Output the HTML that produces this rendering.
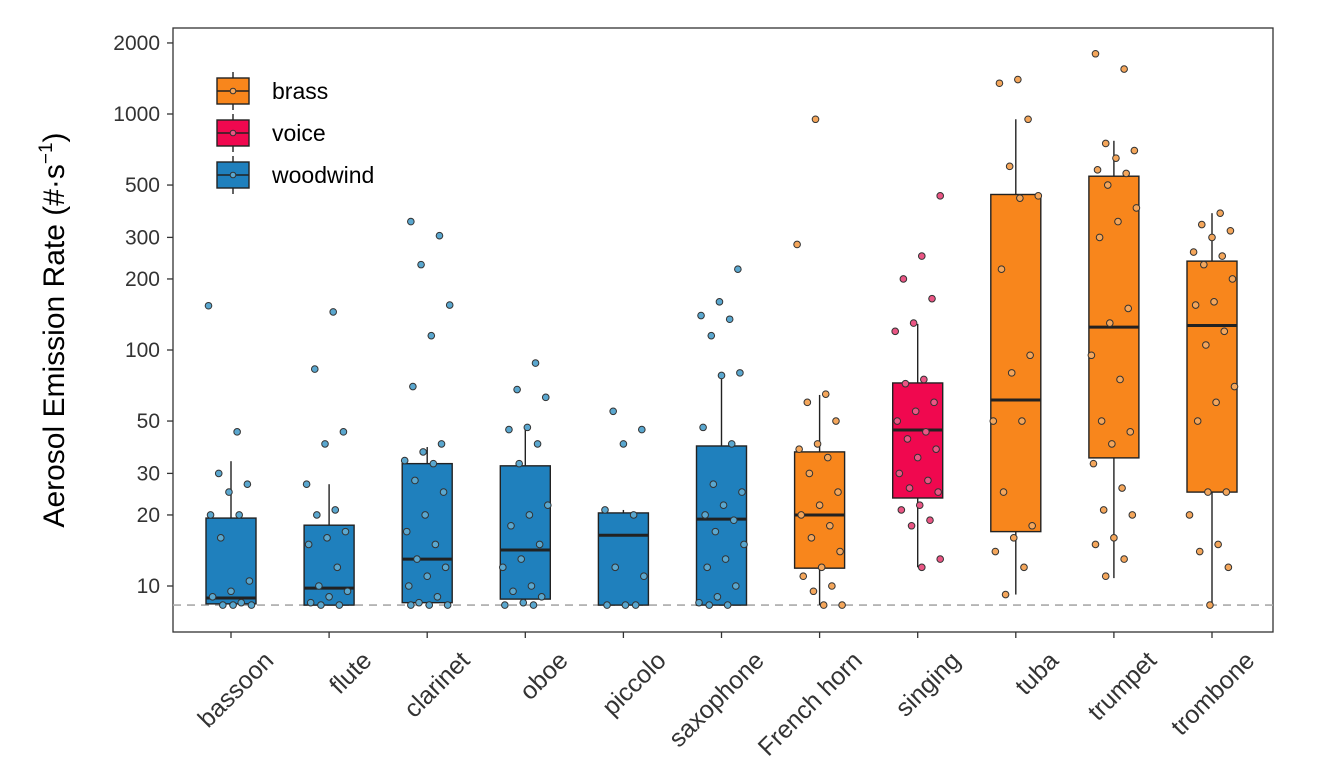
<!DOCTYPE html>
<html><head><meta charset="utf-8"><style>
html,body{margin:0;padding:0;background:#fff;}
svg{display:block;font-family:"Liberation Sans",Arial,sans-serif;}
</style></head><body>
<svg id="chart" width="1321" height="768" viewBox="0 0 1321 768">
<rect x="173" y="28" width="1100" height="604" fill="#fff" stroke="#333" stroke-width="1.3"/>
<g id="grid"></g>
<g id="marks"></g>
<g id="axes"></g>
<text transform="translate(64,330) rotate(-90)" text-anchor="middle" font-size="30" fill="#000">Aerosol Emission Rate (#·s<tspan dy="-12" font-size="19">−1</tspan><tspan dy="12">)</tspan></text>
<g id="legend"></g>
</svg>
<script>
const categories=["bassoon","flute","clarinet","oboe","piccolo","saxophone","French horn","singing","tuba","trumpet","trombone"];
const groups=["woodwind","woodwind","woodwind","woodwind","woodwind","woodwind","brass","voice","brass","brass","brass"];
const q1=[8.4,8.3,8.5,8.8,8.3,8.3,11.9,23.6,17,34.9,25];
const medians=[8.9,9.8,13,14.2,16.4,19.2,20,45.8,61.4,125,127];
const q3=[19.4,18.1,33,32.3,20.4,39.2,37,72.5,456,545,238];
const whiskerLow=[8.3,8.3,8.3,8.3,8.3,8.3,8.3,12,9.2,10.8,8.3];
const whiskerHigh=[33.8,27,38.8,47.2,21,78,64.5,129,950,770,380];
const points=[
[154,45,30,27,25,20,20,16,10.5,9.5,9,8.5,8.3,8.3,8.3],
[145,83,45,40,27,21,20,17,16,15,12,10,9.5,9,8.5,8.3,8.3],
[350,305,230,155,115,70,40,37,34,33,28,25,20,17,15,13,12,11,10,9,8.5,8.3,8.3,8.3],
[88,68,63,47,46,40,33,22,20,18,15,13,12,10,9.5,9,8.5,8.3,8.3],
[55,46,40,21,20,12,11,8.3,8.3,8.3],
[220,160,140,135,115,80,78,47,40,27,25,22,20,19,17,15,13,12,10,9,8.5,8.3,8.3],
[950,280,65,60,50,40,38,35,30,25,22,20,18,16,14,12,11,10,9.5,8.3,8.3],
[450,250,200,165,130,120,75,72,60,55,50,45,42,38,35,30,28,26,25,22,21,19,18,13,12],
[1400,1350,950,600,450,440,220,95,80,50,50,25,18,16,14,12,9.2],
[1800,1550,750,700,650,580,560,500,400,350,300,150,130,95,75,50,45,40,33,26,21,20,16,15,13,11],
[380,340,320,300,260,250,230,200,160,155,120,105,70,60,50,25,25,20,15,14,12,8.3]
];
const yTicks=[10,20,30,50,100,200,300,500,1000,2000];
const detectionLimit=8.3;
const legendGroups=["brass","voice","woodwind"];
const colors={woodwind:"#1f80bd",brass:"#f8861c",voice:"#f0084f"};
const ptColors={woodwind:"#5aa7cf",brass:"#f4a65b",voice:"#ea5584"};
const NS="http://www.w3.org/2000/svg";
function el(t,a,p){const e=document.createElementNS(NS,t);for(const k in a)e.setAttribute(k,a[k]);p.appendChild(e);return e;}
const y=v=>586-(Math.log10(v)-1)*236;
const x=i=>231+i*98.1;
const marks=document.getElementById("marks"),axes=document.getElementById("axes"),grid=document.getElementById("grid");
const dl=el("line",{x1:173,x2:1273,y1:y(detectionLimit),y2:y(detectionLimit),stroke:"#aaa","stroke-width":1.6,"stroke-dasharray":"8,6"},grid);


const bw=50;
categories.forEach((c,i)=>{
  const cx=x(i),g=groups[i];
  const grp=el("g",{},marks);
  
  
  el("line",{x1:cx,x2:cx,y1:y(whiskerHigh[i]),y2:y(q3[i]),stroke:"#222","stroke-width":1.4},grp);
  el("line",{x1:cx,x2:cx,y1:y(q1[i]),y2:y(whiskerLow[i]),stroke:"#222","stroke-width":1.4},grp);
  el("rect",{x:cx-bw/2,y:y(q3[i]),width:bw,height:y(q1[i])-y(q3[i]),fill:colors[g],stroke:"#222","stroke-width":1.4},grp);
  el("line",{x1:cx-bw/2,x2:cx+bw/2,y1:y(medians[i]),y2:y(medians[i]),stroke:"#222","stroke-width":3},grp);
  points[i].forEach((v,j)=>{
    const off=(((j*37+i*13)%23)/22-0.5)*bw*0.9;
    const p=el("circle",{cx:cx+off,cy:y(v),r:3.3,fill:ptColors[g],stroke:"#333","stroke-width":1},grp);
    
    
  });
  const t=el("line",{x1:cx,x2:cx,y1:632,y2:638,stroke:"#333","stroke-width":1.3},axes);
  
  
  const lb=el("text",{transform:`translate(${cx+44},${662}) rotate(-45)`,"text-anchor":"end","font-size":25,fill:"#333"},axes);
  lb.textContent=c;
  
  
});
yTicks.forEach(v=>{
  const t=el("line",{x1:167,x2:173,y1:y(v),y2:y(v),stroke:"#333","stroke-width":1.3},axes);
  
  
  const lb=el("text",{x:160,y:y(v)+7,"text-anchor":"end","font-size":21,fill:"#333"},axes);
  lb.textContent=v;
  
  
});
const leg=document.getElementById("legend");
legendGroups.forEach((g,k)=>{
  const cy=91+k*42;
  const e=el("g",{},leg);
  
  
  el("line",{x1:233,x2:233,y1:cy-19,y2:cy+19,stroke:"#222","stroke-width":1.4},e);
  el("rect",{x:217,y:cy-13,width:32,height:26,fill:colors[g],stroke:"#222","stroke-width":1.4},e);
  el("line",{x1:217,x2:249,y1:cy,y2:cy,stroke:"#222","stroke-width":1.4},e);
  el("circle",{cx:233,cy:cy,r:2.8,fill:ptColors[g],stroke:"#333","stroke-width":1},e);
  const tx=el("text",{x:272,y:cy+8,"font-size":23,fill:"#000"},e);
  tx.textContent=g;
});
</script>
</body></html>
